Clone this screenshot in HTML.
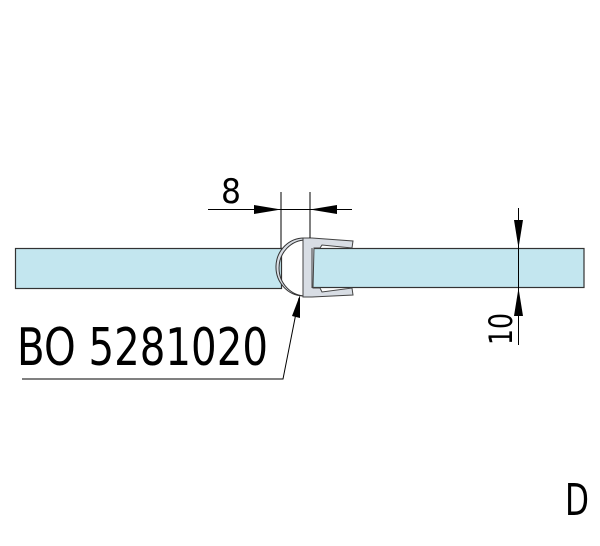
<!DOCTYPE html><html><head><style>body{margin:0;background:#fff}</style></head><body>
<svg width="600" height="541" viewBox="0 0 600 541" xmlns="http://www.w3.org/2000/svg">
<rect width="600" height="541" fill="#fff"/>
<rect x="15.5" y="248.5" width="266" height="40" fill="#c3e6ef" stroke="#333" stroke-width="1.2"/>
<rect x="311" y="248.5" width="273" height="39" fill="#c3e6ef" stroke="#333" stroke-width="1.2"/>
<path d="M305,238 A28,29 0 0 0 303,296 L306,296 A26,27 0 0 1 306,240 Z" fill="#d8dde4" stroke="#333" stroke-width="1"/>
<path d="M303,238 L312,238 L353,241 L352,248 L322,245 L320,248 L314,248 L313,288 L320,288 L322,292 L352,288 L353,295 L312,297 L303,297 Z" fill="#d8dde4" stroke="#444" stroke-width="1"/>
<line x1="312" y1="248" x2="312" y2="288" stroke="#444"/>
<g stroke="#000" stroke-width="1" fill="none">
<line x1="281" y1="192" x2="281" y2="248"/>
<line x1="310" y1="192" x2="310" y2="238"/>
<line x1="208" y1="209.5" x2="352" y2="209.5"/>
<line x1="518.5" y1="208" x2="518.5" y2="345"/>
<polyline points="22,379 283,379 299,298"/>
</g>
<polygon points="281,209.5 254,205 254,214" fill="#000"/>
<polygon points="310,209.5 337,205 337,214" fill="#000"/>
<polygon points="518.5,248 514,220 523,220" fill="#000"/>
<polygon points="518.5,288 514,316 523,316" fill="#000"/>
<polygon points="300,295 292,316 300,318" fill="#000"/>
<g font-family="'DejaVu Sans','Liberation Sans',sans-serif" fill="#000">
<text x="221" y="203" font-size="34" textLength="20" lengthAdjust="spacingAndGlyphs">8</text>
<text x="17" y="365" font-size="52" textLength="251" lengthAdjust="spacingAndGlyphs">BO 5281020</text>
<text transform="translate(512,345) rotate(-90)" font-size="32" textLength="32" lengthAdjust="spacingAndGlyphs">10</text>
<text x="565" y="515" font-size="44" textLength="24" lengthAdjust="spacingAndGlyphs">D</text>
</g>
</svg>
</body></html>
